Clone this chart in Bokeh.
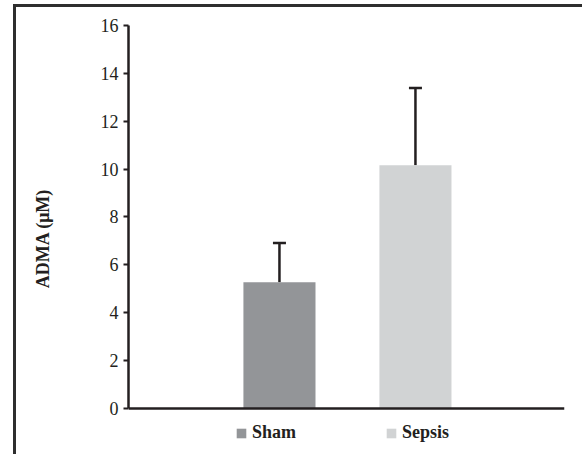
from bokeh.plotting import figure
from bokeh.models import (Range1d, FixedTicker, Whisker, ColumnDataSource, Legend,
                          LegendItem, TeeHead)
from bokeh.embed import file_html
from bokeh.resources import INLINE

groups = ["Sham", "Sepsis"]
means = [5.27, 10.16]
upper_err = [6.91, 13.39]
colors = ["#939598", "#d1d3d4"]
y_ticks = [0, 2, 4, 6, 8, 10, 12, 14, 16]

INK = "#231f20"
FONT = "Liberation Serif"

xs = [i + 1 for i in range(len(groups))]
src = ColumnDataSource(dict(x=xs, top=means, upper=upper_err, color=colors, name=groups))

p = figure(frame_width=436, frame_height=426, output_backend="svg", toolbar_location=None,
           x_range=Range1d(-0.11, 3.096), y_range=Range1d(-1.8, 16),
           min_border_left=112, min_border_right=19, min_border_top=18, min_border_bottom=6)
BORDER = "3px solid #2e2e2e"
p.styles = {"margin-left": "13px", "margin-top": "4px",
            "border-left": BORDER, "border-right": BORDER, "border-top": BORDER}

bars = p.vbar(x="x", top="top", bottom=0, width=0.53, source=src,
              fill_color="color", line_color=None)

wh = Whisker(base="x", lower="top", upper="upper", source=src,
             line_color=INK, line_width=2.5,
             upper_head=TeeHead(size=13, line_color=INK, line_width=2.5),
             lower_head=None)
p.add_layout(wh)

p.xgrid.visible = False
p.ygrid.visible = False
p.outline_line_color = None

xa = p.xaxis[0]
xa.fixed_location = 0
xa.ticker = FixedTicker(ticks=[])
xa.major_tick_line_color = None
xa.minor_tick_line_color = None
xa.axis_line_color = INK
xa.axis_line_width = 2.5

ya = p.yaxis[0]
ya.bounds = (0, 16)
ya.ticker = FixedTicker(ticks=y_ticks)
ya.minor_tick_line_color = None
ya.major_tick_out = 5
ya.major_tick_in = 0
ya.major_tick_line_width = 2
ya.major_tick_line_color = INK
ya.axis_line_color = INK
ya.axis_line_width = 2.5
ya.major_label_text_font = FONT
ya.major_label_text_font_size = "18px"
ya.major_label_text_color = INK
ya.major_label_standoff = 5
ya.axis_label = "ADMA (μM)"
ya.axis_label_text_font = FONT
ya.axis_label_text_font_style = "bold"
ya.axis_label_text_font_size = "18px"
ya.axis_label_text_color = INK
ya.axis_label_standoff = 45

items = [LegendItem(label=g, renderers=[bars], index=i) for i, g in enumerate(groups)]
legend = Legend(items=items, orientation="horizontal", location=(107, 8),
                glyph_width=12, glyph_height=12, label_height=12, label_width=133,
                label_standoff=5, spacing=0, padding=0, margin=0,
                border_line_color=None, background_fill_alpha=0,
                label_text_font=FONT, label_text_font_style="bold",
                label_text_font_size="18px", label_text_color=INK)
p.add_layout(legend)

p.background_fill_color = "white"
p.border_fill_color = "white"

open("out.html", "w").write(file_html(p, INLINE))
